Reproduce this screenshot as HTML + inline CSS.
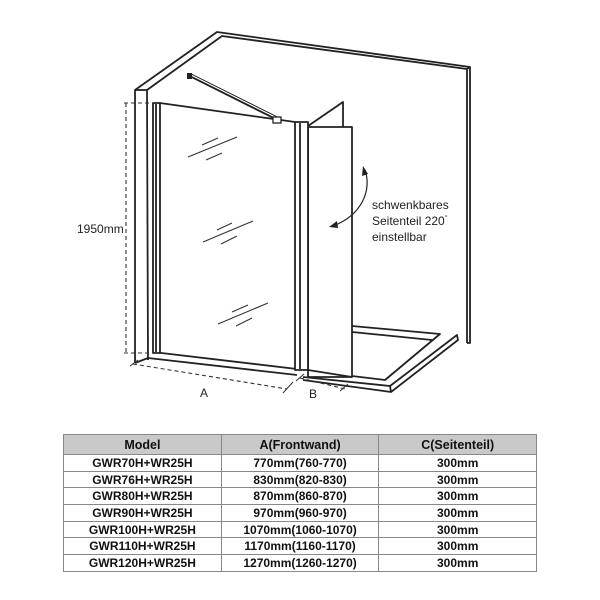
<!DOCTYPE html>
<html><head><meta charset="utf-8"><style>
html,body{margin:0;padding:0;background:#fff;width:600px;height:600px;overflow:hidden}
svg{position:absolute;left:0;top:0}
table{position:absolute;left:63px;top:434px;width:474px;border-collapse:collapse;font-family:"Liberation Sans",Arial,sans-serif;font-weight:bold;font-size:12px;color:#111}
td,th{border:1px solid #888;height:15.7px;padding:0;text-align:center;line-height:14px}
th{background:#c9c9c9;height:19px;font-size:12.5px}
</style></head><body>
<svg width="600" height="600" viewBox="0 0 600 600" font-family="Liberation Sans, Arial, sans-serif">
<g fill="none" stroke="#222" stroke-width="1.8" stroke-linejoin="round">
<!-- wall -->
<polyline points="135,363 135,90 217,32 470,67 470,343 467,343"/>
<polyline points="148,360 147,90 222,36 467,69 467,343"/>
<line x1="135" y1="90" x2="147" y2="90"/>
<line x1="135" y1="363" x2="148" y2="358"/>
<line x1="467" y1="69" x2="470" y2="67"/>
<!-- tray -->
<polyline points="352,326 440,334 385,380 352,376"/>
<polyline points="352,332 432,340"/>
<polyline points="303,377 390,386 457,335 458,340 391,392 303,380"/>
<line x1="390" y1="386" x2="391" y2="392"/>
<!-- base curb -->
<line x1="153" y1="352" x2="297" y2="369"/>
<line x1="148" y1="358" x2="297" y2="375"/>
<!-- left profile -->
<rect x="153" y="103" width="7" height="250" fill="#fff"/>
<line x1="156" y1="104" x2="156" y2="352"/>
<!-- glass top -->
<line x1="160" y1="103" x2="295" y2="122"/>
<!-- side triangle -->
<polyline points="308,126 343,102 343,128"/>
<!-- side panel -->
<rect x="308" y="127" width="44" height="250" fill="#fff"/>
<!-- post -->
<rect x="295" y="122" width="13" height="248" fill="#fff"/>
<line x1="300" y1="123" x2="300" y2="369"/>
<line x1="308" y1="370" x2="352" y2="377"/>
</g>
<!-- arm -->
<line x1="190" y1="75" x2="278" y2="119" stroke="#222" stroke-width="4"/>
<line x1="191" y1="75" x2="277" y2="118" stroke="#fff" stroke-width="1.2"/>
<rect x="187" y="73" width="5" height="6" fill="#222"/>
<rect x="273" y="117" width="8" height="6" fill="#fff" stroke="#222" stroke-width="1.3"/>
<!-- glass reflections -->
<g stroke="#333" stroke-width="1.1">
<line x1="188" y1="157" x2="237" y2="137"/><line x1="202" y1="145" x2="218" y2="138"/><line x1="206" y1="160" x2="222" y2="153"/>
<line x1="203" y1="242" x2="253" y2="221"/><line x1="217" y1="230" x2="232" y2="223"/><line x1="221" y1="244" x2="237" y2="236"/>
<line x1="218" y1="324" x2="268" y2="303"/><line x1="232" y1="312" x2="248" y2="305"/><line x1="236" y1="326" x2="252" y2="318"/>
</g>
<!-- dims -->
<g stroke="#333" stroke-width="1.1" stroke-dasharray="4,3" fill="none">
<line x1="126" y1="103" x2="126" y2="353"/>
<line x1="124" y1="103" x2="153" y2="103"/>
<line x1="124" y1="353" x2="153" y2="353"/>
<line x1="133" y1="364" x2="287" y2="389"/>
<line x1="300" y1="378" x2="345" y2="389"/>
</g>
<g stroke="#333" stroke-width="1">
<line x1="283" y1="393" x2="293" y2="382"/><line x1="296" y1="381" x2="304" y2="374"/><line x1="340" y1="391" x2="348" y2="384"/><line x1="130" y1="366" x2="138" y2="360"/>
</g>
<!-- rotation arrow -->
<path d="M365,170 C372,190 362,215 333,226" fill="none" stroke="#222" stroke-width="1.2"/>
<polygon points="363,166 362,176 368,174" fill="#222"/>
<polygon points="329,227 337,221 338,228" fill="#222"/>
<g font-size="12" fill="#222">
<text x="77" y="233">1950mm</text>
<text x="372" y="209">schwenkbares</text>
<text x="372" y="225">Seitenteil 220<tspan font-size="7" dy="-5">°</tspan></text>
<text x="372" y="241">einstellbar</text>
<text x="200" y="397">A</text>
<text x="309" y="398">B</text>
</g>
</svg>
<table>
<colgroup><col style="width:158px"><col style="width:158px"><col style="width:158px"></colgroup>
<tr><th>Model</th><th>A(Frontwand)</th><th>C(Seitenteil)</th></tr>
<tr><td>GWR70H+WR25H</td><td>770mm(760-770)</td><td>300mm</td></tr>
<tr><td>GWR76H+WR25H</td><td>830mm(820-830)</td><td>300mm</td></tr>
<tr><td>GWR80H+WR25H</td><td>870mm(860-870)</td><td>300mm</td></tr>
<tr><td>GWR90H+WR25H</td><td>970mm(960-970)</td><td>300mm</td></tr>
<tr><td>GWR100H+WR25H</td><td>1070mm(1060-1070)</td><td>300mm</td></tr>
<tr><td>GWR110H+WR25H</td><td>1170mm(1160-1170)</td><td>300mm</td></tr>
<tr><td>GWR120H+WR25H</td><td>1270mm(1260-1270)</td><td>300mm</td></tr>
</table>
</body></html>
